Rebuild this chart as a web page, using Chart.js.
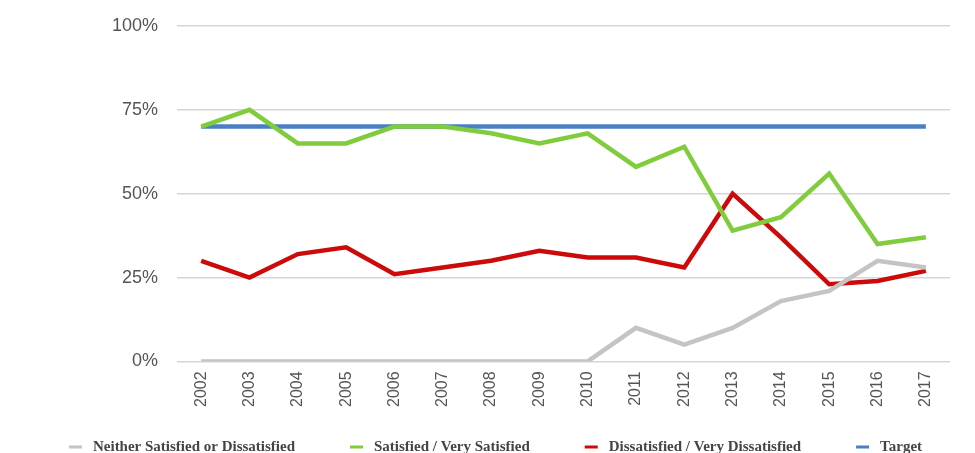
<!DOCTYPE html>
<html>
<head>
<meta charset="utf-8">
<script src="https://cdn.jsdelivr.net/npm/chart.js@4.4.0/dist/chart.umd.min.js"></script>
<style>
  html, body { margin: 0; padding: 0; background: #fff; }
  #wrap { width: 975px; height: 453px; }
</style>
</head>
<body>
<div id="wrap"><canvas id="satisfaction"></canvas></div>
<script>
var years = ['2002','2003','2004','2005','2006','2007','2008','2009','2010','2011','2012','2013','2014','2015','2016','2017'];
var neither      = [0, 0, 0, 0, 0, 0, 0, 0, 0, 10, 5, 10, 18, 21, 30, 28];
var satisfied    = [70, 75, 65, 65, 70, 70, 68, 65, 68, 58, 64, 39, 43, 56, 35, 37];
var dissatisfied = [30, 25, 32, 34, 26, 28, 30, 33, 31, 31, 28, 50, 37, 23, 24, 27];
var target       = [70, 70, 70, 70, 70, 70, 70, 70, 70, 70, 70, 70, 70, 70, 70, 70];
var yTicks = [0, 25, 50, 75, 100];

function line(label, data, color) {
  return {
    label: label,
    data: data,
    borderColor: color,
    backgroundColor: color,
    borderWidth: 4.5,
    pointRadius: 0,
    tension: 0,
    fill: false
  };
}

// one-row legend along the bottom edge, short dash before each name
var bottomLegend = {
  id: 'bottomLegend',
  afterDraw: function (chart) {
    var c = chart.ctx;
    var gap = 55, dash = 13, dashGap = 11;
    c.save();
    c.font = 'bold 15px "Liberation Serif"';
    c.textBaseline = 'middle';
    var items = chart.data.datasets.map(function (ds) {
      return { text: ds.label, color: ds.borderColor, w: c.measureText(ds.label).width };
    });
    var total = items.reduce(function (s, it) { return s + dash + dashGap + it.w; }, 0) + gap * (items.length - 1);
    var x = chart.width / 2 - total / 2 + 8;
    var y = 447;
    items.forEach(function (it) {
      c.fillStyle = it.color;
      c.fillRect(x, y - 1.5, dash, 3);
      x += dash + dashGap;
      c.fillStyle = '#444';
      c.fillText(it.text, x, y);
      x += it.w + gap;
    });
    c.restore();
  }
};

var ctx = document.getElementById('satisfaction').getContext('2d');
var chart = new Chart(ctx, {
  type: 'line',
  data: {
    labels: years,
    datasets: [
      line('Neither Satisfied or Dissatisfied', neither, '#c4c4c4'),
      line('Satisfied / Very Satisfied', satisfied, '#80cc3c'),
      line('Dissatisfied / Very Dissatisfied', dissatisfied, '#cc0a0a'),
      line('Target', target, '#4a7fc4')
    ]
  },
  plugins: [bottomLegend],
  options: {
    responsive: true,
    maintainAspectRatio: false,
    animation: false,
    layout: { padding: { left: 93, right: 25, top: 26, bottom: 44 } },
    plugins: {
      tooltip: { enabled: false },
      legend: { display: false }
    },
    scales: {
      x: {
        offset: true,
        grid: { display: false },
        border: { display: false },
        ticks: {
          minRotation: 90,
          maxRotation: 90,
          padding: 2,
          color: '#555',
          font: { family: 'Liberation Sans', size: 16 }
        }
      },
      y: {
        min: 0,
        max: 100,
        afterBuildTicks: function (axis) {
          axis.ticks = yTicks.map(function (v) { return { value: v }; });
        },
        afterFit: function (axis) {
          axis.paddingTop = 0;
          axis.paddingBottom = 0;
        },
        grid: { color: '#d6d6d6', lineWidth: 1.5, drawTicks: false },
        border: { display: false },
        ticks: {
          padding: 19,
          color: '#555',
          font: { family: 'Liberation Sans', size: 18 },
          callback: function (v) { return v + '%'; }
        }
      }
    }
  }
});
</script>
</body>
</html>
